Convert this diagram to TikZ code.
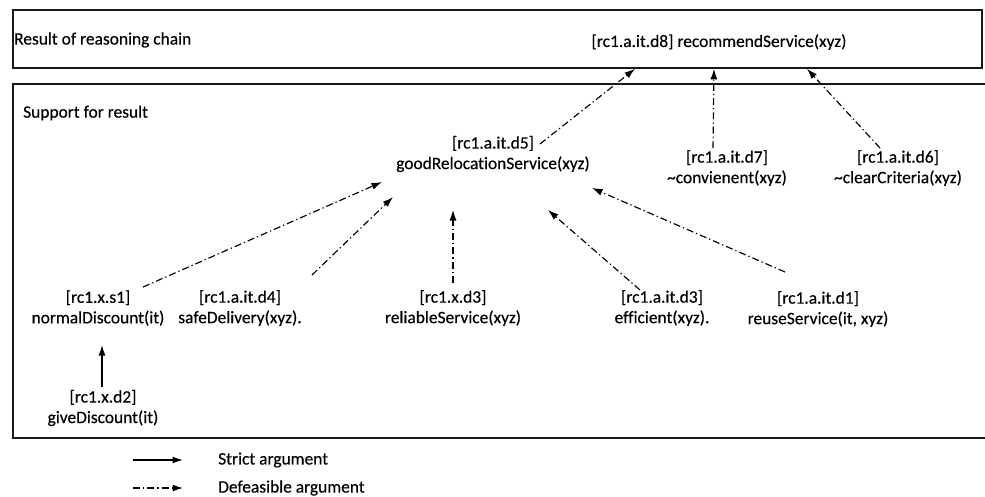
\documentclass[tikz,border=0pt]{standalone}
\usepackage{fontspec}
\setmainfont{Carlito}[Ligatures={NoCommon}, FakeBold=0.35]
\usetikzlibrary{arrows.meta,calc}

\tikzset{
  panel/.style={draw=black!90, line width=1.6pt, inner sep=0pt},
  lbl/.style={align=center, inner sep=0pt, font=\fontsize{17.4}{20.5}\selectfont},
  tip/.style={-{Latex[length=10.5pt,width=7pt]}},
  defarg/.style={tip, line width=1.15pt, dash pattern=on 7pt off 3pt on 1.3pt off 3pt},
  strictarg/.style={tip, line width=1.4pt},
}

\begin{document}
\begin{tikzpicture}[x=1pt, y=-1pt]
\useasboundingbox (0,0) rectangle (985,496);

% panels
\node[panel, minimum width=969pt, minimum height=58pt] (res) at (497.5,39) {};
\node[panel, minimum width=1000pt, minimum height=354pt] (sup) at (513,261) {};

% panel titles
\node[lbl, anchor=west] (rtitle) at (14,40) {Result of reasoning chain};
\node[lbl, anchor=west] (stitle) at (23,113) {Support for result};

% conclusion
\node[lbl] (d8) at (719,42) {[rc1.a.it.d8] recommendService(xyz)};

% supporting arguments
\node[lbl] (d5) at (493,154) {[rc1.a.it.d5]\\goodRelocationService(xyz)};
\node[lbl] (d7) at (727,168) {[rc1.a.it.d7]\\\char`~convienent(xyz)};
\node[lbl] (d6) at (898,168) {[rc1.a.it.d6]\\\char`~clearCriteria(xyz)};
\node[lbl] (s1) at (98,308)  {[rc1.x.s1]\\normalDiscount(it)};
\node[lbl] (d4) at (240,308) {[rc1.a.it.d4]\\safeDelivery(xyz).};
\node[lbl] (rel) at (453,308) {[rc1.x.d3]\\reliableService(xyz)};
\node[lbl] (eff) at (662,308) {[rc1.a.it.d3]\\efficient(xyz).};
\node[lbl] (d1) at (818,309) {[rc1.a.it.d1]\\reuseService(it, xyz)};
\node[lbl] (d2) at (103,408) {[rc1.x.d2]\\giveDiscount(it)};

% arguments for the conclusion
\draw[defarg] ($(d5)+(47,-10)$) -- ($(res.south)+(137.5,0)$);
\draw[defarg] ($(d7)+(-14,-20)$) -- ($(res.south)+(216.5,0)$);
\draw[defarg] ($(d6)+(-18,-20)$) -- ($(res.south)+(309.5,0)$);

% arguments for goodRelocationService
\draw[defarg] ($(s1)+(45,-21)$) -- ($(d5)+(-111,28)$);
\draw[defarg] ($(d4)+(72,-33)$) -- ($(d5)+(-100,43)$);
\draw[defarg] ($(rel)+(0,-25)$) -- ($(d5)+(-40,56)$);
\draw[defarg] ($(eff)+(-22,-18)$) -- ($(d5)+(55,56)$);
\draw[defarg] ($(d1)+(-33,-37)$) -- ($(d5)+(99,34)$);

% strict argument
\draw[strictarg] ($(d2)+(-1,-21)$) -- ($(s1)+(4,37)$);

% legend
\coordinate (ls0) at (133,460);
\coordinate (ls1) at (183,460);
\coordinate (ld0) at (133,488);
\coordinate (ld1) at (183,488);
\draw[strictarg] (ls0) -- (ls1);
\draw[defarg] (ld0) -- (ld1);
\node[lbl, anchor=west] (lstrict) at (218,460) {Strict argument};
\node[lbl, anchor=west] (ldef) at (218,488) {Defeasible argument};
\end{tikzpicture}
\end{document}
